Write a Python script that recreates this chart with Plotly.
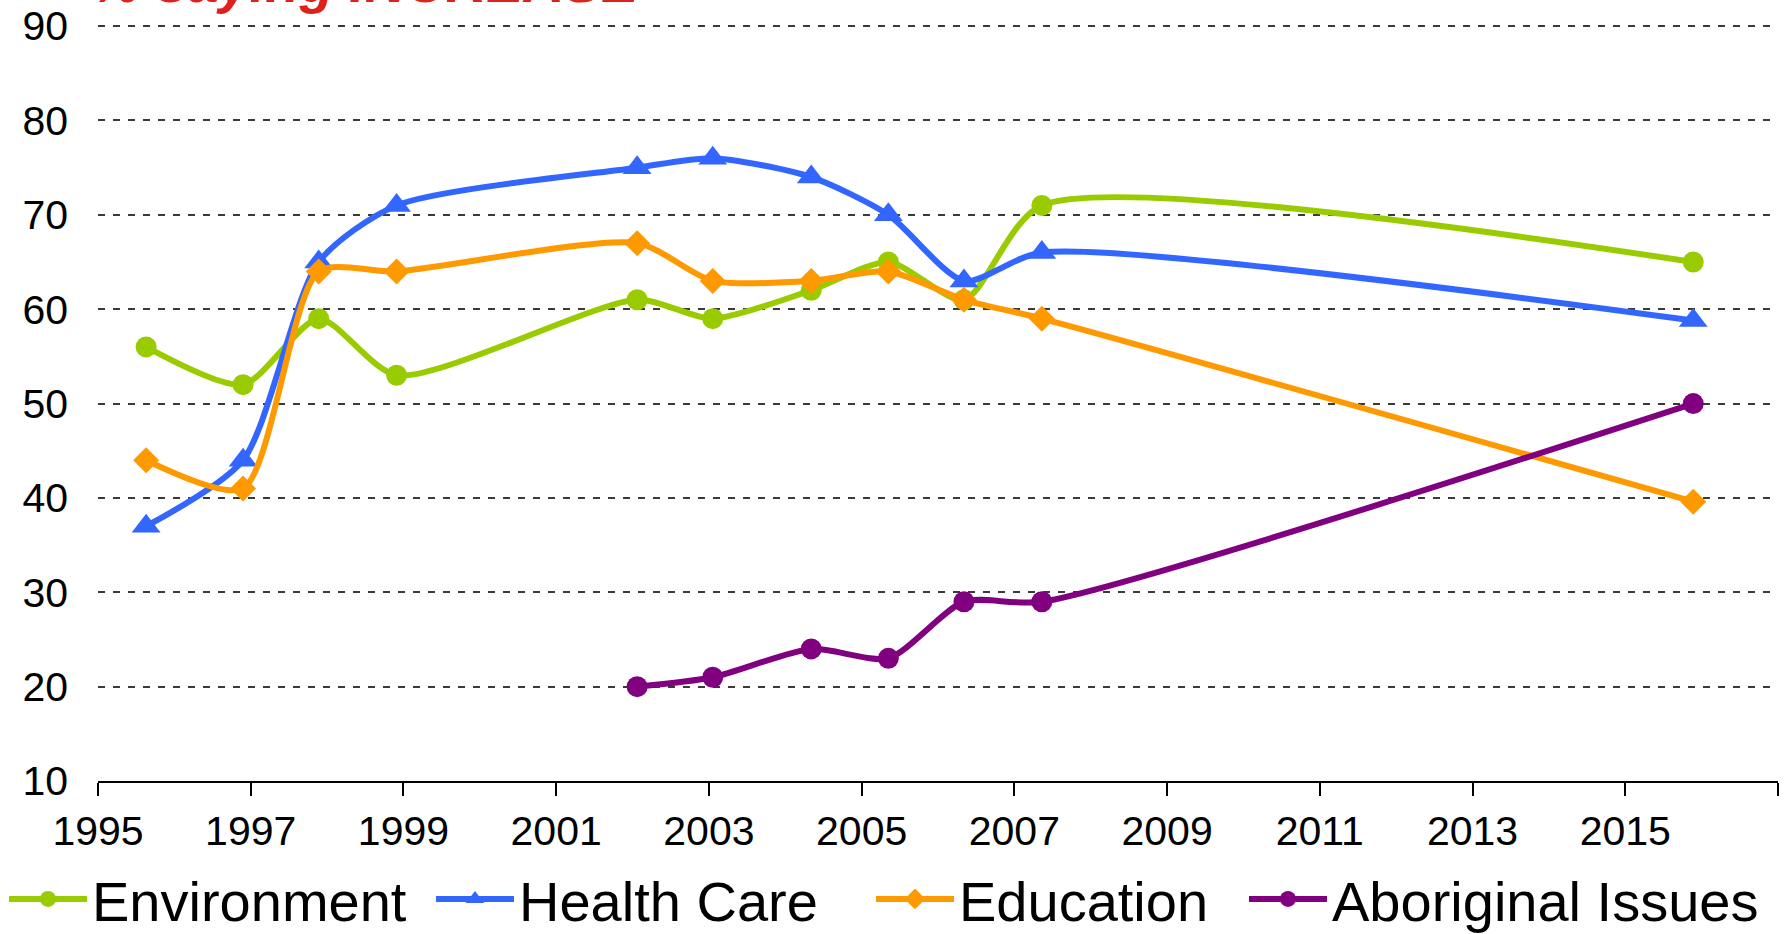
import plotly.graph_objects as go

# ---- data ----
survey_dates = [1995.63, 1996.9, 1997.89, 1998.91, 2002.06, 2003.05,
                2004.34, 2005.35, 2006.34, 2007.36, 2015.89]
environment = [56, 52, 59, 53, 61, 59, 62, 65, 61, 71, 65]
health_care = [37, 44, 65, 71, 75, 76, 74, 70, 63, 66, 58.8]
education = [44, 41, 64, 64, 67, 63, 63, 64, 61, 59, 39.6]
aboriginal_dates = [2002.06, 2003.05, 2004.34, 2005.35, 2006.34, 2007.36, 2015.89]
aboriginal = [20, 21, 24, 23, 29, 29, 50]

x_tickvals = [1995, 1997, 1999, 2001, 2003, 2005, 2007, 2009, 2011, 2013, 2015, 2017]
x_ticktext = ["1995", "1997", "1999", "2001", "2003", "2005", "2007", "2009",
              "2011", "2013", "2015", ""]
y_tickvals = [10, 20, 30, 40, 50, 60, 70, 80, 90]

series = [
    ("Environment", survey_dates, environment, "#99CC00", "circle", 21, "legend"),
    ("Health Care", survey_dates, health_care, "#3366FF", "triangle-up", 25, "legend2"),
    ("Education", survey_dates, education, "#FF9900", "diamond", 20, "legend3"),
    ("Aboriginal Issues", aboriginal_dates, aboriginal, "#800080", "circle", 21, "legend4"),
]

FONT = "Liberation Sans, Arial, sans-serif"
W, H = 1784, 934
ML, MR, MT, MB = 98, 6, 25, 153
PW = W - ML - MR
PH = H - MT - MB

fig = go.Figure()
for name, xs, ys, color, sym, size, leg in series:
    fig.add_trace(go.Scatter(
        x=xs, y=ys, name=name, mode="lines+markers",
        line=dict(color=color, width=6, shape="spline", smoothing=0.7),
        marker=dict(symbol=sym, size=size, color=color, line=dict(width=0)),
        legend=leg, showlegend=True,
    ))

def px_x(p):
    return (p - ML) / PW

def px_y(p):
    return (H - MB - p) / PH

legend_common = dict(
    orientation="h", xanchor="left", yanchor="middle",
    xref="container", yref="container",
    y=(H - 899) / H, font=dict(family=FONT, size=56, color="#000000"),
    bgcolor="rgba(0,0,0,0)", borderwidth=0, itemwidth=78,
)
fig.update_layout(
    showlegend=True,
    legend=dict(x=4 / W, **legend_common),
    legend2=dict(x=431 / W, **legend_common),
    legend3=dict(x=871 / W, **legend_common),
    legend4=dict(x=1244 / W, **legend_common),
)

fig.update_layout(
    width=W, height=H,
    margin=dict(l=ML, r=MR, t=MT, b=MB, autoexpand=False),
    paper_bgcolor="white", plot_bgcolor="white",
    font=dict(family=FONT, color="#000000"),
    xaxis=dict(
        range=[1995, 2017], tickmode="array", tickvals=x_tickvals, ticktext=x_ticktext,
        showgrid=False, zeroline=False, showline=True, linecolor="#000000", linewidth=2,
        ticks="outside", ticklen=13, tickwidth=1.5, tickcolor="#000000",
        tickfont=dict(family=FONT, size=41, color="#000000"),
    ),
    yaxis=dict(
        range=[10, 90.12], tickmode="array", tickvals=y_tickvals,
        showgrid=True, gridcolor="#3a3a3a", gridwidth=1.5, griddash="7px,8px",
        zeroline=False, showline=False, ticks="",
        ticklabelstandoff=29, ticklabeloverflow="allow",
        tickfont=dict(family=FONT, size=41, color="#000000"),
    ),
    annotations=[dict(
        text="<b><i>% saying INCREASE</i></b>", xref="paper", yref="paper",
        x=px_x(89), y=px_y(16), xanchor="left", yanchor="bottom", showarrow=False,
        font=dict(family=FONT, size=56, color="#E0201B"),
    )],
)

fig.write_html("out.html", config={"displayModeBar": False},
               post_script="document.body.style.margin='0px';")
